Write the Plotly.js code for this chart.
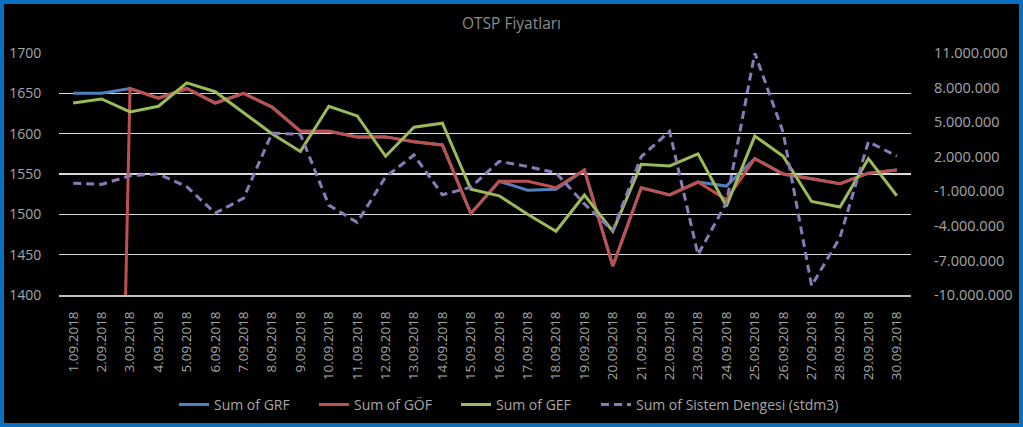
<!DOCTYPE html>
<html>
<head>
<meta charset="utf-8">
<script src="https://cdn.plot.ly/plotly-3.0.1.min.js"></script>
<style>
  html, body { margin: 0; padding: 0; background: #000; }
  #wrap { position: relative; width: 1023px; height: 427px; }
  #wrap::after { content: ""; position: absolute; left: 0; top: 0; right: 0; bottom: 0;
    border: 4px solid #0b6fc0; pointer-events: none; }
  #chart { width: 1023px; height: 427px; }
</style>
</head>
<body>
<div id="wrap"><div id="chart"></div></div>
<script>
const dates = ['1.09.2018','2.09.2018','3.09.2018','4.09.2018','5.09.2018','6.09.2018','7.09.2018','8.09.2018','9.09.2018','10.09.2018',
  '11.09.2018','12.09.2018','13.09.2018','14.09.2018','15.09.2018','16.09.2018','17.09.2018','18.09.2018','19.09.2018','20.09.2018',
  '21.09.2018','22.09.2018','23.09.2018','24.09.2018','25.09.2018','26.09.2018','27.09.2018','28.09.2018','29.09.2018','30.09.2018'];

const grf = [1650,1650,1656,1644,1656,1638,1650,1633,1603,1603,1596,1596,1590,1586,1501,1541,1530,1531,1555,1436,
  1533,1524,1540,1535,1569,1550,1544,1538,1551,1555];
const gof = [0,0,1656,1644,1656,1638,1650,1633,1603,1603,1596,1596,1590,1586,1501,1541,1541,1533,1555,1436,
  1533,1524,1540,1518,1569,1550,1544,1538,1551,1555];
const gef = [1638,1643,1627,1634,1663,1652,1626,1600,1578,1634,1622,1572,1608,1613,1531,1523,1500,1479,1524,1479,
  1562,1560,1575,1510,1597,1572,1516,1509,1569,1523];
const sistem = [-300000,-400000,350000,500000,-600000,-2900000,-1600000,4050000,3950000,-2200000,
  -3700000,250000,2150000,-1300000,-650000,1600000,1150000,600000,-2100000,-4400000,
  2000000,4200000,-6500000,-2000000,11000000,4100000,-9200000,-5000000,3300000,2050000];

const rightTickVals = [-10000000,-7000000,-4000000,-1000000,2000000,5000000,8000000,11000000];
const rightTickText = ['-10.000.000','-7.000.000','-4.000.000','-1.000.000','2.000.000','5.000.000','8.000.000','11.000.000'];

const FONT = '"Open Sans", "Noto Sans", sans-serif';
const TXT = '#a6a6a6';

const traces = [
  {x: dates, y: grf, name: 'Sum of GRF', type: 'scatter', mode: 'lines', legend: 'legend',
   line: {color: '#4f81bd', width: 3}},
  {x: dates, y: gof, name: 'Sum of GÖF', type: 'scatter', mode: 'lines', legend: 'legend2',
   line: {color: '#c0504d', width: 3}},
  {x: dates, y: gef, name: 'Sum of GEF', type: 'scatter', mode: 'lines', legend: 'legend3',
   line: {color: '#9bbb59', width: 3}},
  {x: dates, y: sistem, name: 'Sum of Sistem Dengesi (stdm3)', type: 'scatter', mode: 'lines', yaxis: 'y2', legend: 'legend4',
   line: {color: '#8a7bb8', width: 3, dash: '8px,5px'}}
];

function leg(px) {
  return {orientation: 'h', xref: 'container', yref: 'container', x: px / 1023, xanchor: 'left',
          y: 0.052, yanchor: 'middle',
          font: {family: FONT, size: 14, color: TXT}, bgcolor: 'rgba(0,0,0,0)', itemwidth: 30};
}

const layout = {
  width: 1023, height: 427,
  paper_bgcolor: '#000', plot_bgcolor: '#000',
  margin: {l: 59, r: 112, t: 53, b: 132, pad: 0},
  font: {family: FONT, color: TXT},
  title: {text: 'OTSP Fiyatları', x: 0.5, xref: 'container', y: 0.945, yref: 'container',
          xanchor: 'center', yanchor: 'middle', font: {family: FONT, size: 15.5, color: '#8c8c8c'}},
  xaxis: {type: 'category', range: [-0.5, 29.5], autorange: false, tickangle: -90, showgrid: false, zeroline: false,
          showline: true, linecolor: '#bfbfbf', linewidth: 2, automargin: false,
          ticks: 'outside', ticklen: 9, tickcolor: 'rgba(0,0,0,0)',
          tickfont: {family: FONT, size: 13.5, color: TXT}},
  yaxis: {range: [1400, 1700], tick0: 1400, dtick: 50, showgrid: true, gridcolor: '#d9d9d9', gridwidth: 1.5,
          zeroline: false, showline: false, ticks: 'outside', ticklen: 14, tickcolor: 'rgba(0,0,0,0)',
          automargin: false, tickfont: {family: FONT, size: 14, color: TXT}},
  yaxis2: {overlaying: 'y', side: 'right', range: [-10000000, 11000000],
           tickmode: 'array', tickvals: rightTickVals, ticktext: rightTickText,
           showgrid: false, zeroline: false, showline: false, automargin: false,
           ticks: 'outside', ticklen: 19, tickcolor: 'rgba(0,0,0,0)',
           tickfont: {family: FONT, size: 14.5, color: TXT}},
  showlegend: true,
  legend: leg(174),
  legend2: leg(314),
  legend3: leg(456),
  legend4: leg(596)
};

Plotly.newPlot('chart', traces, layout, {displayModeBar: false, staticPlot: true});
</script>
</body>
</html>
